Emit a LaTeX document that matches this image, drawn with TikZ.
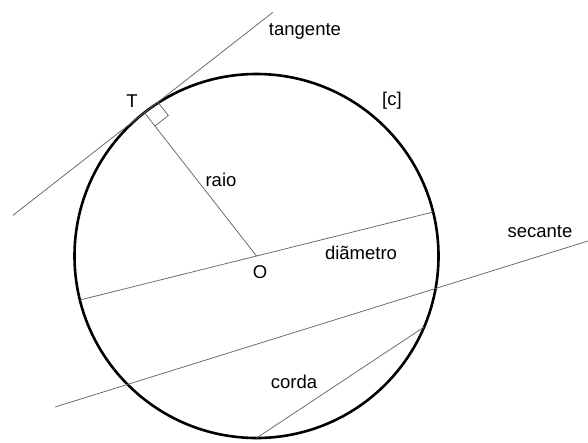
\documentclass[tikz,border=0pt]{standalone}
\usepackage{fontspec}
\setmainfont{Liberation Sans}
\usetikzlibrary{calc}
\begin{document}
\begin{tikzpicture}[x=1pt,y=-1pt,
  thinline/.style={draw=black!60,line width=0.75pt},
  lbl/.style={font=\fontsize{18.5}{20}\selectfont,inner sep=0pt,text=black}]
\useasboundingbox (0,0) rectangle (588,442);
% centre and circle
\coordinate (O) at (256.5,256);
\draw[line width=2.6pt] (O) circle (182);
% tangent point T (angle 128 deg, y flipped)
\coordinate (T) at ($(O)+(-112.05,-143.4)$);
\coordinate (tanA) at ($(T)+(-131.6,102.8)$);
\coordinate (tanB) at ($(T)+(128.3,-100.2)$);
\draw[thinline] (tanA) -- (tanB);
\draw[thinline] (O) -- (T);
% right-angle mark
\coordinate (sq1) at ($(T)!17pt!(O)$);
\coordinate (sq3) at ($(T)!17pt!(tanB)$);
\coordinate (sq2) at ($(sq1)+(sq3)-(T)$);
\draw[thinline] (sq1) -- (sq2) -- (sq3);
% diameter (angle 14 deg)
\coordinate (dA) at ($(O)+(-176.6,44.0)$);
\coordinate (dB) at ($(O)+(176.6,-44.0)$);
\draw[thinline] (dA) -- (dB);
% secant
\coordinate (sA) at (55,407);
\coordinate (sB) at (588,241);
\draw[thinline] (sA) -- (sB);
% chord
\coordinate (cA) at ($(O)+(0,182)$);
\coordinate (cB) at ($(O)+(167.5,71.1)$);
\draw[thinline] (cA) -- (cB);
% labels
\node[lbl] (ltan) at (305,31) {tangente};
\node[lbl] (lT) at (132,101) {T};
\node[lbl] (lc) at (392,101) {[c]};
\node[lbl] (lraio) at (221,180) {raio};
\node[lbl] (ldiam) at (361,253) {diãmetro};
\node[lbl] (lO) at (260,272) {O};
\node[lbl] (lsec) at (540,232) {secante};
\node[lbl] (lcorda) at (294,382) {corda};
\end{tikzpicture}
\end{document}
